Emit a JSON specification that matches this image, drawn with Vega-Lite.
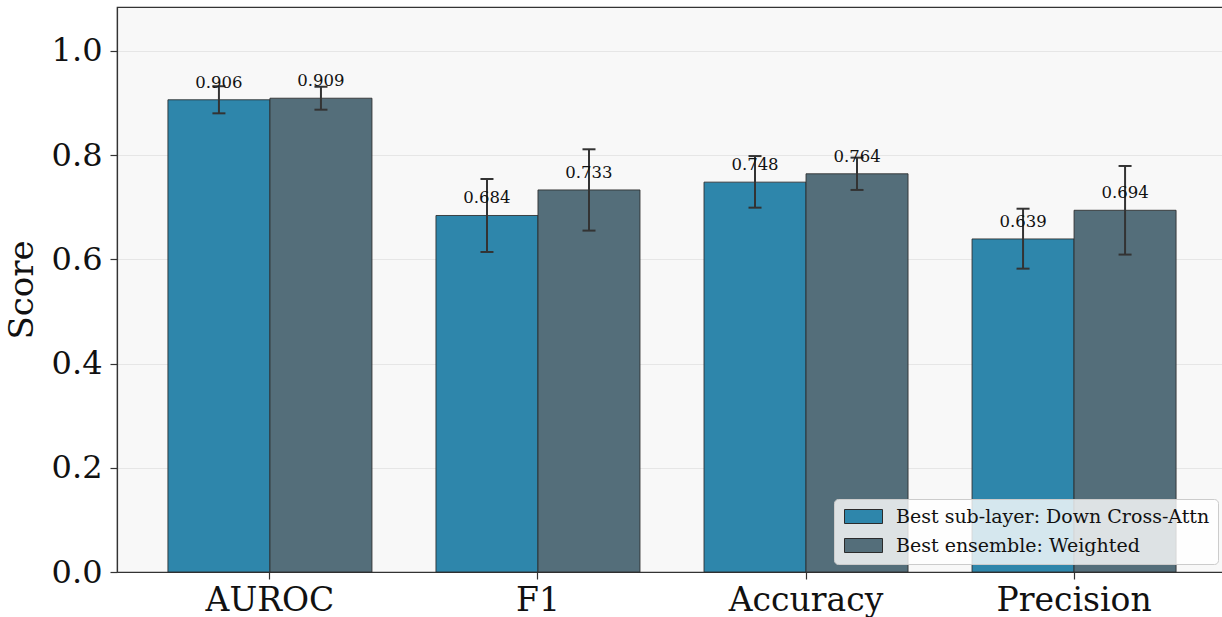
{
  "$schema": "https://vega.github.io/schema/vega-lite/v6.json",
  "autosize": {"type": "none"},
  "padding": {"left": 117, "top": 7, "right": 0, "bottom": 45},
  "width": 1110,
  "height": 565,
  "background": "#ffffff",
  "config": {
    "font": "DejaVu Serif",
    "view": {"fill": "#f8f8f8", "stroke": "#333333", "strokeWidth": 1.2},
    "axis": {
      "domainColor": "#333333",
      "domainWidth": 1.2,
      "tickColor": "#333333",
      "tickWidth": 1.2,
      "tickSize": 7,
      "labelColor": "#111111",
      "titleColor": "#111111",
      "labelFont": "DejaVu Serif",
      "titleFont": "DejaVu Serif",
      "titleFontWeight": "normal"
    }
  },
  "data": {
    "values": [
      {"metric": "AUROC", "model": "Best sub-layer: Down Cross-Attn", "score": 0.906, "lo": 0.880, "hi": 0.932},
      {"metric": "AUROC", "model": "Best ensemble: Weighted", "score": 0.909, "lo": 0.887, "hi": 0.931},
      {"metric": "F1", "model": "Best sub-layer: Down Cross-Attn", "score": 0.684, "lo": 0.614, "hi": 0.754},
      {"metric": "F1", "model": "Best ensemble: Weighted", "score": 0.733, "lo": 0.655, "hi": 0.811},
      {"metric": "Accuracy", "model": "Best sub-layer: Down Cross-Attn", "score": 0.748, "lo": 0.699, "hi": 0.798},
      {"metric": "Accuracy", "model": "Best ensemble: Weighted", "score": 0.764, "lo": 0.733, "hi": 0.795},
      {"metric": "Precision", "model": "Best sub-layer: Down Cross-Attn", "score": 0.639, "lo": 0.582, "hi": 0.697},
      {"metric": "Precision", "model": "Best ensemble: Weighted", "score": 0.694, "lo": 0.609, "hi": 0.779}
    ]
  },
  "encoding": {
    "x": {
      "field": "metric",
      "type": "nominal",
      "sort": ["AUROC", "F1", "Accuracy", "Precision"],
      "scale": {"paddingInner": 0.2388, "paddingOuter": 0.19},
      "axis": {"title": null, "labelAngle": 0, "labelFontSize": 33, "labelPadding": 5, "grid": false}
    },
    "xOffset": {
      "field": "model",
      "type": "nominal",
      "sort": ["Best sub-layer: Down Cross-Attn", "Best ensemble: Weighted"],
      "scale": {"paddingInner": 0, "paddingOuter": 0}
    }
  },
  "layer": [
    {
      "mark": {"type": "bar", "stroke": "#2b2b2b", "strokeWidth": 1, "strokeOpacity": 0.85},
      "encoding": {
        "y": {
          "field": "score",
          "type": "quantitative",
          "scale": {"domain": [0, 1.084], "nice": false},
          "axis": {
            "title": "Score",
            "titleFontSize": 34,
            "titlePadding": 12,
            "values": [0, 0.2, 0.4, 0.6, 0.8, 1.0],
            "format": ".1f",
            "labelFontSize": 32,
            "labelPadding": 8,
            "grid": true,
            "gridColor": "#e6e6e6",
            "gridWidth": 1
          }
        },
        "color": {
          "field": "model",
          "type": "nominal",
          "sort": ["Best sub-layer: Down Cross-Attn", "Best ensemble: Weighted"],
          "scale": {"range": ["#2E86AB", "#546E7A"]},
          "legend": {
            "title": null,
            "orient": "none",
            "legendX": 717,
            "legendY": 492,
            "direction": "vertical",
            "fillColor": "rgba(255,255,255,0.8)",
            "strokeColor": "#cccccc",
            "cornerRadius": 4,
            "padding": 8,
            "rowPadding": 9,
            "labelFont": "DejaVu Serif",
            "labelFontSize": 19,
            "labelColor": "#111111",
            "labelLimit": 500,
            "labelOffset": 35,
            "symbolType": "M-1,-1L4.43,-1L4.43,1L-1,1Z",
            "symbolSize": 196,
            "symbolStrokeColor": "#2b2b2b",
            "symbolStrokeWidth": 1,
            "symbolOpacity": 1
          }
        }
      }
    },
    {
      "mark": {"type": "rule", "color": "#333333", "strokeWidth": 2},
      "encoding": {
        "y": {"field": "lo", "type": "quantitative"},
        "y2": {"field": "hi"}
      }
    },
    {
      "mark": {"type": "tick", "color": "#333333", "size": 13, "thickness": 2, "orient": "horizontal", "opacity": 1},
      "encoding": {"y": {"field": "lo", "type": "quantitative"}}
    },
    {
      "mark": {"type": "tick", "color": "#333333", "size": 13, "thickness": 2, "orient": "horizontal", "opacity": 1},
      "encoding": {"y": {"field": "hi", "type": "quantitative"}}
    },
    {
      "mark": {"type": "text", "fontSize": 16.5, "font": "DejaVu Serif", "color": "#111111", "dy": -12, "baseline": "alphabetic"},
      "encoding": {
        "y": {"field": "score", "type": "quantitative"},
        "text": {"field": "score", "type": "quantitative", "format": ".3f"}
      }
    }
  ]
}
